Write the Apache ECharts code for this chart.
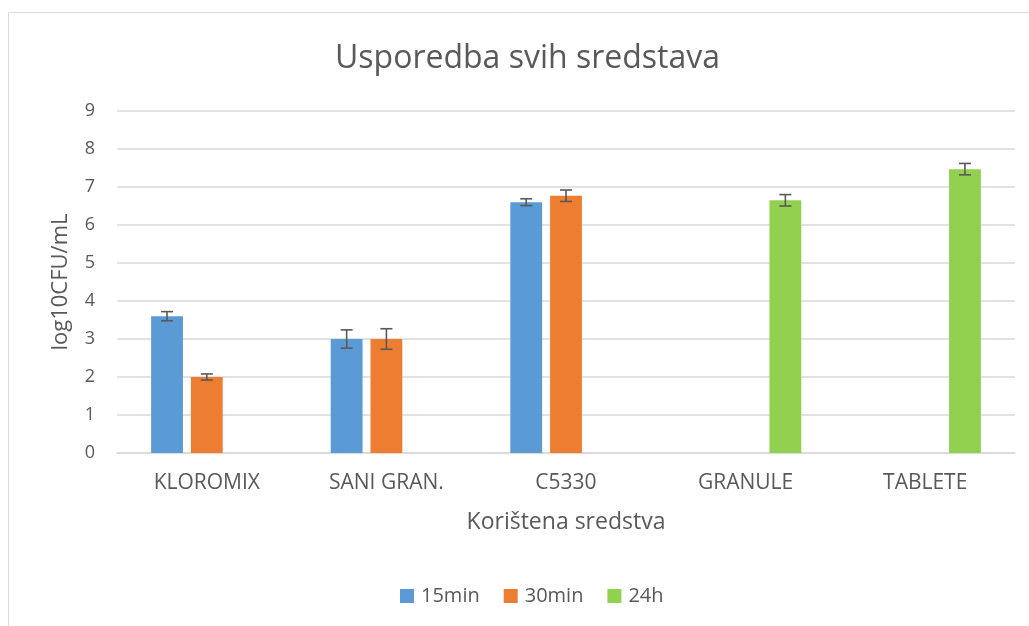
<!DOCTYPE html>
<html>
<head>
<meta charset="utf-8">
<script src="https://cdn.jsdelivr.net/npm/echarts@6/dist/echarts.min.js"></script>
<style>
html,body{margin:0;padding:0;background:#fff;}
#chart{width:1029px;height:626px;}
</style>
</head>
<body>
<div id="chart"></div>
<script>
const categories = ['KLOROMIX', 'SANI GRAN.', 'C5330', 'GRANULE', 'TABLETE'];
const seriesNames = ['15min', '30min', '24h'];
const values15 = [3.6, 3.0, 6.6, null, null];
const values30 = [2.0, 3.0, 6.77, null, null];
const values24 = [null, null, null, 6.65, 7.47];
const err15 = [0.12, 0.24, 0.09, null, null];
const err30 = [0.08, 0.27, 0.15, null, null];
const err24 = [null, null, null, 0.15, 0.15];
const yTicks = [0, 1, 2, 3, 4, 5, 6, 7, 8, 9];

const colors = ['#5B9BD5', '#ED7D31', '#92D050'];
const FONT = 'Open Sans';
const TXT = '#595959';
const BAR_CAT_GAP = 0.38, BAR_GAP = 0.25, NSER = 3;

const allVals = [values15, values30, values24];
const allErr = [err15, err30, err24];

function errSeries(si) {
  const data = [];
  categories.forEach((c, i) => {
    if (allVals[si][i] != null) data.push([i, allVals[si][i], allErr[si][i]]);
  });
  return {
    type: 'custom',
    name: seriesNames[si] + ' err',
    z: 10,
    silent: true,
    data: data,
    encode: {x: 0, y: 1},
    renderItem: function (params, api) {
      const ci = api.value(0), v = api.value(1), e = api.value(2);
      const band = api.size([1, 0])[0];
      const bw = band * (1 - BAR_CAT_GAP) / (NSER + (NSER - 1) * BAR_GAP);
      const gw = NSER * bw + (NSER - 1) * bw * BAR_GAP;
      const off = -gw / 2 + si * bw * (1 + BAR_GAP) + bw / 2;
      const top = api.coord([ci, v + e]);
      const bot = api.coord([ci, v - e]);
      const x = top[0] + off;
      const cap = 6;
      const style = {stroke: '#595959', lineWidth: 1.6, fill: null};
      return {
        type: 'group',
        children: [
          {type: 'line', shape: {x1: x, y1: top[1], x2: x, y2: bot[1]}, style: style},
          {type: 'line', shape: {x1: x - cap, y1: top[1], x2: x + cap, y2: top[1]}, style: style},
          {type: 'line', shape: {x1: x - cap, y1: bot[1], x2: x + cap, y2: bot[1]}, style: style}
        ]
      };
    }
  };
}

const chart = echarts.init(document.getElementById('chart'));
chart.setOption({
  animation: false,
  backgroundColor: '#fff',
  textStyle: {fontFamily: FONT},
  graphic: [{
    type: 'rect', silent: true, z: -10,
    shape: {x: 8.5, y: 12.5, width: 1040, height: 640},
    style: {fill: '#fff', stroke: '#d9d9d9', lineWidth: 1}
  }],
  title: {
    text: 'Usporedba svih sredstava',
    left: 330, top: 38,
    textStyle: {fontFamily: FONT, fontSize: 32, fontWeight: 'normal', color: TXT}
  },
  legend: {
    data: seriesNames,
    top: 581, left: 395,
    itemWidth: 14, itemHeight: 14, itemGap: 24,
    icon: 'rect',
    textStyle: {fontFamily: FONT, fontSize: 20, color: TXT, padding: [0, 0, 0, 2]}
  },
  grid: {left: 117, right: 14, top: 111, bottom: 173},
  xAxis: {
    type: 'category',
    data: categories,
    name: 'Korištena sredstva',
    nameLocation: 'middle',
    nameGap: 58,
    nameTextStyle: {fontFamily: FONT, fontSize: 23, color: TXT},
    axisLine: {lineStyle: {color: '#d9d9d9', width: 1.5}},
    axisTick: {show: false},
    axisLabel: {fontFamily: FONT, fontSize: 21, color: TXT, margin: 20}
  },
  yAxis: {
    type: 'value',
    min: yTicks[0], max: yTicks[yTicks.length - 1], interval: 1,
    name: 'log10CFU/mL',
    nameLocation: 'middle',
    nameGap: 45,
    nameTextStyle: {fontFamily: FONT, fontSize: 22, color: TXT},
    axisLine: {show: false},
    axisTick: {show: false},
    axisLabel: {fontFamily: FONT, fontSize: 18, color: TXT, margin: 22},
    splitLine: {lineStyle: {color: '#d9d9d9', width: 1.5}}
  },
  series: [0, 1, 2].map(si => ({
    type: 'bar',
    name: seriesNames[si],
    data: allVals[si].map(v => v == null ? '-' : v),
    itemStyle: {color: colors[si]},
    barGap: (BAR_GAP * 100) + '%',
    barCategoryGap: (BAR_CAT_GAP * 100) + '%'
  })).concat([0, 1, 2].map(errSeries))
});
</script>
</body>
</html>
